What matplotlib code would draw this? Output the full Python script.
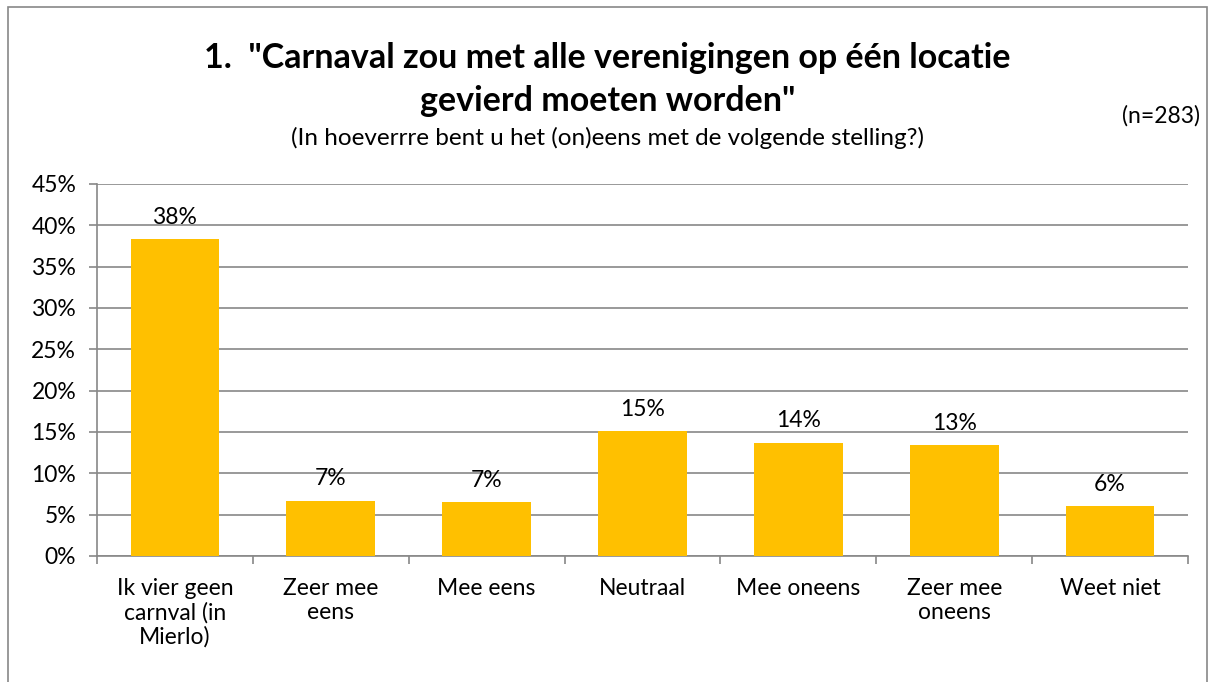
import matplotlib.pyplot as plt
from matplotlib.patches import Rectangle
from matplotlib.ticker import MultipleLocator, PercentFormatter

categories = [
    "Ik vier geen\ncarnval (in\nMierlo)",
    "Zeer mee\neens",
    "Mee eens",
    "Neutraal",
    "Mee oneens",
    "Zeer mee\noneens",
    "Weet niet",
]
values = [38.3, 6.7, 6.5, 15.1, 13.7, 13.4, 6.0]
labels = ["38%", "7%", "7%", "15%", "14%", "13%", "6%"]

plt.rcParams["font.family"] = ["Lato", "DejaVu Sans"]

fig = plt.figure(figsize=(12.15, 6.82), dpi=100)
ax = fig.add_axes([97 / 1215, 1 - 556 / 682, (1188 - 97) / 1215, (556 - 184) / 682])

x = list(range(len(categories)))
ax.bar(x, values, width=0.57, color="#FFC000", zorder=3)
for xi, v, lab in zip(x, values, labels):
    ax.text(xi, v + 1.4, lab, ha="center", va="bottom", fontsize=16.5, color="#000000")

ax.set_xlim(-0.5, len(categories) - 0.5)
ax.set_ylim(0, 45)
ax.yaxis.set_major_locator(MultipleLocator(5))
ax.yaxis.set_major_formatter(PercentFormatter(decimals=0))
ax.grid(axis="y", color="#888888", linewidth=1.2, zorder=0)

ax.set_xticks([i - 0.5 for i in range(len(categories) + 1)])
ax.set_xticklabels([])
ax.set_xticks(x, minor=True)
ax.set_xticklabels(categories, minor=True, fontsize=16.5, linespacing=1.15)
ax.tick_params(axis="x", which="minor", length=0, pad=16)
ax.tick_params(axis="x", which="major", length=6, color="#888888", width=1.2)
ax.tick_params(axis="y", length=6, color="#888888", width=1.2, labelsize=16.5, pad=9)

for side in ["top", "right"]:
    ax.spines[side].set_visible(False)
for side in ["left", "bottom"]:
    ax.spines[side].set_color("#888888")
    ax.spines[side].set_linewidth(1.2)

fig.text(0.5, 1 - 58 / 682, '1.  "Carnaval zou met alle verenigingen op één locatie',
         ha="center", va="center", fontsize=24.5, fontweight="bold")
fig.text(0.5, 1 - 101 / 682, 'gevierd moeten worden"',
         ha="center", va="center", fontsize=24.5, fontweight="bold")
fig.text(0.5, 1 - 138 / 682, "(In hoeverrre bent u het (on)eens met de volgende stelling?)",
         ha="center", va="center", fontsize=17.5)
fig.text(1 - 15 / 1215, 1 - 116 / 682, "(n=283)", ha="right", va="center", fontsize=16.5)

fig.patches.append(Rectangle((8 / 1215, -0.05), (1207 - 8) / 1215, 1.05 - 7 / 682,
                             transform=fig.transFigure, fill=False,
                             edgecolor="#888888", linewidth=1.2))

fig.savefig("out.png", dpi=100)
